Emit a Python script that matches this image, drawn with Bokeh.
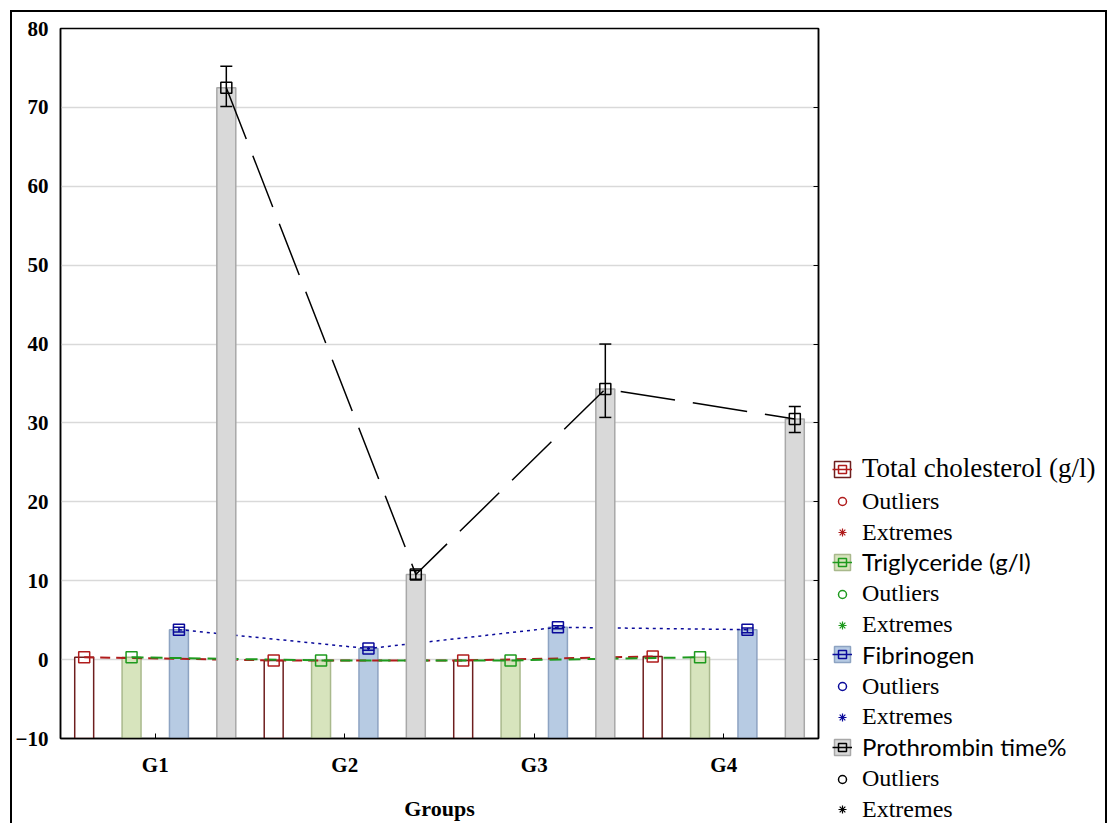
from bokeh.plotting import figure
from bokeh.layouts import row as brow
from bokeh.models import (Legend, LegendItem, FixedTicker,
                          LinearAxis, Range1d, CustomJSTickFormatter)
from bokeh.embed import file_html
from bokeh.resources import INLINE

# ---------------- data ----------------
groups = ["G1", "G2", "G3", "G4"]
series_names = ["Total cholesterol (g/l)", "Triglyceride (g/l)", "Fibrinogen", "Prothrombin time%"]
chol = [0.3, -0.1, -0.1, 0.4]
trig = [0.3, -0.1, -0.1, 0.3]
fib = [3.8, 1.4, 4.1, 3.8]
fib_low = [3.5, 1.2, 3.9, 3.4]
fib_high = [4.1, 1.6, 4.3, 4.0]
proth = [72.5, 10.8, 34.3, 30.5]
proth_low = [70.1, 10.2, 30.7, 28.8]
proth_high = [75.2, 11.3, 40.0, 32.1]
y_ticks = [-10, 0, 10, 20, 30, 40, 50, 60, 70, 80]
x_title = "Groups"

# ---------------- styles ----------------
W1, W2, H = 820, 273, 811
FL, FR, FT, FB = 47, 806, 16, 726      # frame edges in canvas px
offsets = [-0.375, -0.125, 0.125, 0.375]
bar_w = 0.1
mark_col = ["#B01C1C", "#1E9A1E", "#0A0A9A", "#000000"]
bar_fill = ["#FFFFFF", "#D7E4BD", "#B7CBE3", "#D9D9D9"]
bar_line = ["#6E1E1E", "#A9B98C", "#8DA3C2", "#A8A8A8"]
dashes = ["10 6", "12 7", "3 4", "55 18"]
line_w = [2, 2, 1.5, 1.5]
NAN = float("nan")

p = figure(width=W1, height=H, x_range=Range1d(0.5, 4.5), y_range=Range1d(-10, 80),
           output_backend="svg", toolbar_location=None,
           min_border_left=FL, min_border_right=W1 - FR,
           min_border_top=FT, min_border_bottom=H - FB)
p.background_fill_color = "white"
p.border_fill_color = "white"
p.outline_line_color = "black"
p.outline_line_width = 1.5

p.xgrid.visible = False
p.ygrid.ticker = FixedTicker(ticks=y_ticks)
p.ygrid.grid_line_color = "#D9D9D9"
p.ygrid.grid_line_width = 1.5

ya = p.yaxis[0]
ya.ticker = FixedTicker(ticks=y_ticks)
ya.major_tick_in = 0
ya.major_tick_out = 0
ya.minor_tick_line_color = None
ya.axis_line_color = "black"
ya.axis_line_width = 1.5
ya.major_label_standoff = 12
ya.major_label_text_font = "Liberation Serif"
ya.major_label_text_font_style = "bold"
ya.major_label_text_font_size = "21px"
ya.major_label_text_color = "black"

xs = list(range(1, len(groups) + 1))
xa = p.xaxis[0]
xa.ticker = FixedTicker(ticks=xs)
xa.major_label_overrides = {x: g for x, g in zip(xs, groups)}
xa.major_tick_in = 5
xa.major_tick_out = 0
xa.minor_tick_line_color = None
xa.axis_line_color = "black"
xa.axis_line_width = 1.5
xa.major_label_standoff = 14
xa.major_label_text_font = "Liberation Serif"
xa.major_label_text_font_style = "bold"
xa.major_label_text_font_size = "21px"
xa.major_label_text_color = "black"
xa.axis_label = x_title
xa.axis_label_standoff = 16
xa.axis_label_text_font = "Liberation Serif"
xa.axis_label_text_font_style = "bold"
xa.axis_label_text_font_size = "22px"
xa.axis_label_text_color = "black"

ra = LinearAxis(ticker=FixedTicker(ticks=y_ticks), formatter=CustomJSTickFormatter(code="return ''"),
                major_tick_in=5, major_tick_out=0, minor_tick_line_color=None,
                axis_line_color="black", axis_line_width=1.5)
p.add_layout(ra, "right")

values = [chol, trig, fib, proth]


def xpos(k):
    return [x + offsets[k] for x in xs]


def draw_series(k):
    p.vbar(x=xpos(k), top=values[k], bottom=y_ticks[0], width=bar_w,
           fill_color=bar_fill[k], line_color=bar_line[k], line_width=1.5)


def draw_line(k):
    p.line(xpos(k), values[k], line_color=mark_col[k], line_dash=dashes[k], line_width=line_w[k])


def draw_marks(k):
    p.scatter(xpos(k), values[k], marker="square", size=11, fill_color=None,
              line_color=mark_col[k], line_width=1.5)


def draw_err(k, lo, hi):
    x = xpos(k)
    p.segment(x0=x, y0=lo, x1=x, y1=hi, line_color=mark_col[k], line_width=1.5)
    p.scatter(x, lo, marker="dash", size=12, line_color=mark_col[k], line_width=1.5)
    p.scatter(x, hi, marker="dash", size=12, line_color=mark_col[k], line_width=1.5)


for k in range(3):
    draw_series(k)
for k in range(3):
    draw_line(k)
draw_err(2, fib_low, fib_high)
for k in range(3):
    draw_marks(k)
draw_series(3)
draw_line(3)
draw_err(3, proth_low, proth_high)
draw_marks(3)

# ---------------- legend panel (second figure) ----------------
q = figure(width=W2, height=H, x_range=Range1d(0, 1), y_range=Range1d(0, 1),
           output_backend="svg", toolbar_location=None,
           min_border_left=0, min_border_right=0, min_border_top=0, min_border_bottom=0)
q.axis.visible = False
q.grid.visible = False
q.outline_line_color = None
q.background_fill_color = "white"
q.border_fill_color = "white"
for fig in (p, q):
    try:
        fig.frame_align = False
    except Exception:
        pass

ROW0 = 823 - 471       # first row centre, from the panel bottom
STEP = 30.8
state = {"row": 0}


def add_row(label, rends, font, size):
    yc = ROW0 - STEP * state["row"]
    lg = Legend(items=[LegendItem(label=label, renderers=rends)], location=(0, yc - 13),
                padding=0, margin=0, spacing=0, border_line_color=None,
                background_fill_alpha=0, glyph_width=20, glyph_height=20,
                label_height=20, label_standoff=10,
                label_text_font=font, label_text_font_size=size, label_text_color="black")
    q.add_layout(lg)
    state["row"] += 1


head_font = ["Liberation Serif", "Lato", "Lato", "Lato"]
head_size = ["27px", "24px", "24px", "24px"]
for k in range(4):
    b = q.vbar(x=[NAN], top=[NAN], bottom=0, width=0.1, fill_color=bar_fill[k],
               line_color=bar_line[k], line_width=1.5)
    l = q.line(x=[NAN, NAN], y=[NAN, NAN], line_color=mark_col[k], line_width=1.5)
    m = q.scatter(x=[NAN], y=[NAN], marker="square", size=11, fill_color=None,
                  line_color=mark_col[k], line_width=1.5)
    o = q.scatter(x=[NAN], y=[NAN], marker="circle", size=7, fill_color=None,
                  line_color=mark_col[k], line_width=1.5)
    e = q.scatter(x=[NAN], y=[NAN], marker="asterisk", size=11,
                  line_color=mark_col[k], line_width=1.2)
    add_row(series_names[k], [b, l, m], head_font[k], head_size[k])
    add_row("Outliers", [o], "Liberation Serif", "24px")
    add_row("Extremes", [e], "Liberation Serif", "24px")

layout = brow(p, q, spacing=0)
layout.styles = {"border-top": "2px solid black", "border-left": "2px solid black",
                 "border-right": "2px solid black"}
layout.margin = (10, 0, 0, 10)

open("out.html", "w").write(file_html(layout, INLINE))
